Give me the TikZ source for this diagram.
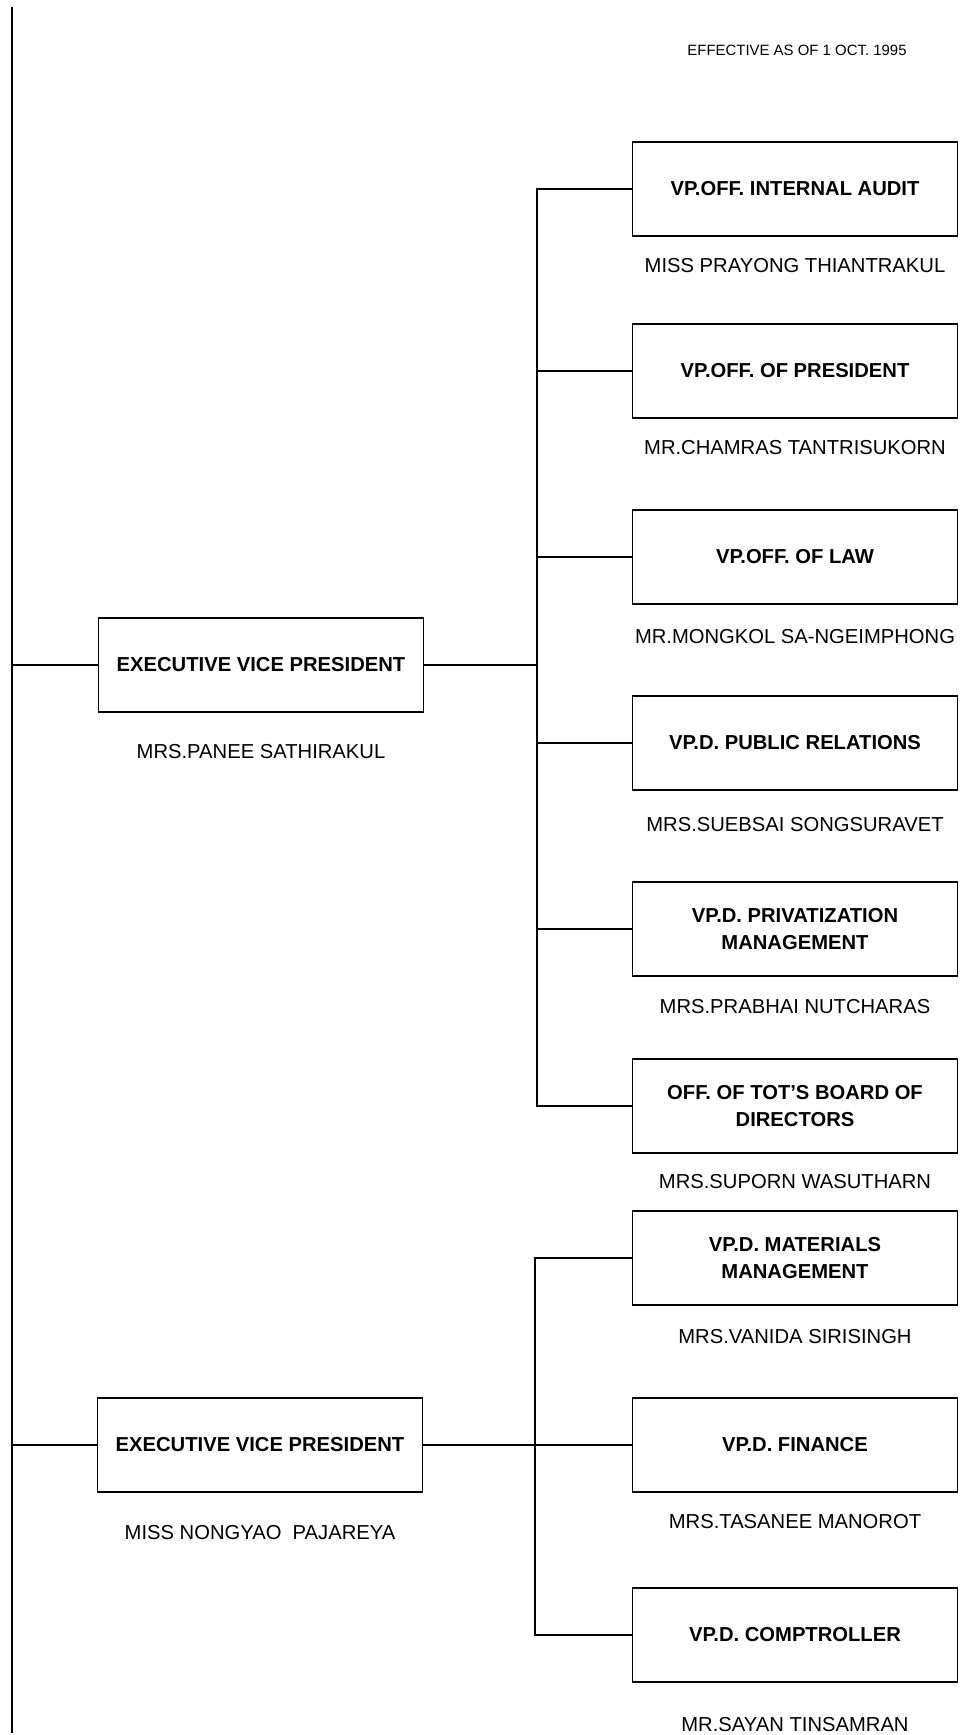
\documentclass[tikz,border=0pt]{standalone}
\usepackage{fontspec}
\setmainfont{Liberation Sans}
\begin{document}
\begin{tikzpicture}[x=0.2mm, y=-0.2mm,
  box/.style={draw, rectangle, line width=0.7pt, minimum width=65mm, minimum height=18.8mm,
    align=center, font=\bfseries\fontsize{11.5}{15}\selectfont},
  who/.style={font=\fontsize{11.5}{13}\selectfont},
  e/.style={line width=0.8pt}
]
\useasboundingbox (0,0) rectangle (963,1735);

\node[font=\fontsize{8.5}{9}\selectfont] (date) at (797,50) {EFFECTIVE AS OF 1 OCT. 1995};

% main line on the left
\coordinate (ltop) at (12,7);
\coordinate (lbot) at (12,1733);
\draw[line width=1pt] (ltop) -- (lbot);

% Executive VP 1
\node[box] (evpa) at (261,665) {EXECUTIVE VICE PRESIDENT};
\node[who] (wevpa) at (261,752) {MRS.PANEE SATHIRAKUL};

\node[box] (audit) at (795,189) {VP.OFF. INTERNAL AUDIT};
\node[who] (waudit) at (795,266) {MISS PRAYONG THIANTRAKUL};
\node[box] (pres) at (795,371) {VP.OFF. OF PRESIDENT};
\node[who] (wpres) at (795,448) {MR.CHAMRAS TANTRISUKORN};
\node[box] (law) at (795,557) {VP.OFF. OF LAW};
\node[who] (wlaw) at (795,637) {MR.MONGKOL SA-NGEIMPHONG};
\node[box] (pr) at (795,743) {VP.D. PUBLIC RELATIONS};
\node[who] (wpr) at (795,825) {MRS.SUEBSAI SONGSURAVET};
\node[box] (priv) at (795,929) {VP.D. PRIVATIZATION\\MANAGEMENT};
\node[who] (wpriv) at (795,1007) {MRS.PRABHAI NUTCHARAS};
\node[box] (board) at (795,1106) {OFF. OF TOT'S BOARD OF\\DIRECTORS};
\node[who] (wboard) at (795,1182) {MRS.SUPORN WASUTHARN};

\coordinate (busa) at (537,0);
\draw[e] (evpa.west -| ltop) -- (evpa.west);
\draw[e] (evpa.east) -- (evpa.east -| busa);
\draw[e] (audit.west) -- (audit.west -| busa) -- (board.west -| busa) -- (board.west);
\foreach \b in {pres,law,pr,priv}
  \draw[e] (\b.west -| busa) -- (\b.west);

% Executive VP 2
\node[box] (evpb) at (260,1445) {EXECUTIVE VICE PRESIDENT};
\node[who] (wevpb) at (260,1533) {MISS NONGYAO\ \ PAJAREYA};

\node[box] (mat) at (795,1258) {VP.D. MATERIALS\\MANAGEMENT};
\node[who] (wmat) at (795,1337) {MRS.VANIDA SIRISINGH};
\node[box] (fin) at (795,1445) {VP.D. FINANCE};
\node[who] (wfin) at (795,1522) {MRS.TASANEE MANOROT};
\node[box] (comp) at (795,1635) {VP.D. COMPTROLLER};
\node[who] (wcomp) at (795,1725) {MR.SAYAN TINSAMRAN};

\coordinate (busb) at (535,0);
\draw[e] (evpb.west -| ltop) -- (evpb.west);
\draw[e] (evpb.east) -- (fin.west);
\draw[e] (mat.west) -- (mat.west -| busb) -- (comp.west -| busb) -- (comp.west);
\end{tikzpicture}
\end{document}
